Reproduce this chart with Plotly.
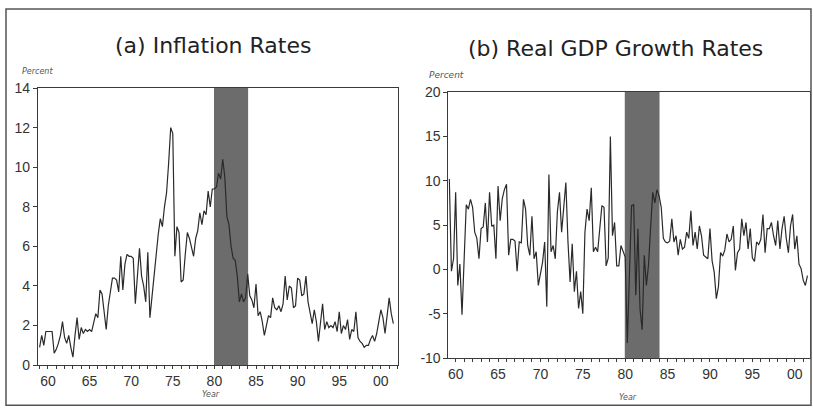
import plotly.graph_objects as go

# ---------------- data (quarterly, annualised %) ----------------
infl_start_year = 1959          # first quarter: 1959Q1
inflation = [
    0.9, 1.5, 1.0, 1.7,   1.7, 1.7, 1.7, 0.6,   0.8, 1.1, 1.5, 2.2,   1.4, 1.1, 1.5, 0.9,
    0.4, 1.5, 2.4, 1.3,   1.9, 1.6, 1.8, 1.7,   1.8, 1.7, 2.2, 2.6,   2.4, 3.8, 3.6, 2.6,
    1.8, 3.0, 3.8, 4.4,   4.4, 4.3, 3.7, 5.5,   3.8, 5.1, 5.6, 5.5,   5.5, 5.4, 3.1, 4.6,
    5.9, 4.5, 4.0, 3.2,   5.7, 2.4, 3.5, 4.6,   5.6, 6.6, 7.4, 7.0,   8.0, 8.7, 10.2, 12.0,
    11.7, 5.5, 7.0, 6.7,  4.2, 4.3, 5.6, 6.7,   6.4, 6.0, 5.5, 6.4,   6.8, 7.7, 7.1, 7.8,
    7.6, 8.8, 8.0, 8.9,   8.9, 9.0, 9.7, 9.4,   10.4, 9.5, 7.5, 7.1,  6.0, 5.4, 5.3, 4.5,
    3.2, 3.6, 3.2, 3.4,   4.6, 3.5, 3.3, 2.9,   4.1, 2.5, 2.7, 2.2,   1.5, 2.0, 2.5, 2.4,
    3.4, 2.9, 2.8, 3.0,   2.7, 3.1, 4.5, 3.3,   4.0, 3.9, 2.9, 3.0,   4.4, 4.3, 3.5, 3.6,
    4.5, 3.2, 2.7, 2.1,   2.8, 2.2, 1.2, 2.3,   3.1, 1.8, 2.2, 1.9,   2.0, 1.9, 2.2, 1.7,
    2.7, 1.6, 2.0, 1.8,   2.3, 1.3, 1.8, 1.7,   2.7, 1.4, 1.2, 1.1,   0.9, 1.0, 1.0, 1.3,
    1.5, 1.2, 1.6, 2.2,   2.8, 2.4, 1.6, 2.5,   3.4, 2.6, 2.1,
]

gdp_start_year = 1959.25        # first quarter: 1959Q2
gdp_growth = [
    10.2, -0.2, 1.2,
    8.7, -1.8, 0.6, -5.1,   0.5, 7.3, 6.8, 7.9,   7.0, 4.2, 3.5, 1.2,   4.6, 4.8, 7.5, 3.1,
    8.7, 4.9, 5.0, 1.2,     9.4, 5.5, 8.0, 9.0,   9.6, 1.6, 3.4, 3.4,   3.2, -0.2, 3.1, 3.0,
    7.9, 6.8, 2.7, 1.6,     6.0, 1.2, 2.0, -1.8,  -0.5, 0.8, 3.1, -4.2, 10.7, 2.0, 2.7, 1.2,
    6.5, 8.7, 4.2, 7.5,     9.8, 3.1, -1.4, 2.9,  -2.5, -0.2, -4.4, -2.5, -5.0, 4.2, 6.8, 5.5,
    9.2, 2.0, 2.5, 2.0,     4.6, 7.2, 7.0, 0.4,   1.3, 15.0, 3.8, 5.3,  0.4, 0.4, 2.7, 2.0,
    1.4, -8.3, -0.5, 7.2,   7.3, -2.9, 4.6, -4.5, -6.8, 1.6, -1.8, 0.5, 4.8, 8.7, 7.5, 9.0,
    8.3, 7.0, 3.5, 3.1,     3.0, 3.2, 5.7, 3.1,   3.8, 1.6, 3.4, 2.3,   2.5, 4.2, 3.5, 6.6,
    2.7, 4.2, 2.3, 4.9,     3.8, 1.6, 1.4, 1.2,   4.6, 1.0, -0.3, -3.3, -1.9, 1.9, 1.5, 2.2,
    4.0, 3.1, 3.4, 4.9,     -0.1, 1.9, 2.3, 5.7,  3.8, 5.3, 2.3, 4.6,   1.3, 0.9, 3.1, 2.8,
    3.4, 6.2, 1.9, 4.6,     4.6, 5.3, 3.8, 2.7,   5.5, 2.3, 4.6, 6.0,   3.5, 1.9, 4.9, 6.2,
    2.3, 3.8, 0.6, 0.1,     -1.2, -1.8, -0.7,
]

shade_years = [1979.95, 1984.05]
x_tick_years = [1960, 1965, 1970, 1975, 1980, 1985, 1990, 1995, 2000]
x_tick_labels = ["60", "65", "70", "75", "80", "85", "90", "95", "00"]
y1_ticks = [0, 2, 4, 6, 8, 10, 12, 14]
y2_ticks = [-10, -5, 0, 5, 10, 15, 20]
y2_tick_labels = ["-10", "-5", "0", "5", "10", "15", "20"]
titles = ["(a) Inflation Rates", "(b) Real GDP Growth Rates"]

infl_x = [infl_start_year + i / 4 for i in range(len(inflation))]
gdp_x = [gdp_start_year + i / 4 for i in range(len(gdp_growth))]

W, H = 813, 415
# screen-position helpers (vertical calibration of the capture: 8px top inset, 0.961 scale)
def px(x): return x / W
def py(y): return 1 - ((y - 8) / 0.961) / H

all_years = list(range(1959, 2003))
all_year_text = [x_tick_labels[x_tick_years.index(y)] if y in x_tick_years else "" for y in all_years]

LINE = "#2a2a2a"
AX = "#3a3a3a"
TICKFONT = dict(family="Liberation Sans, Arial, sans-serif", size=14, color="#333333")

fig = go.Figure()
fig.add_trace(go.Scatter(x=infl_x, y=inflation, mode="lines",
                         line=dict(color=LINE, width=1.2), xaxis="x", yaxis="y",
                         showlegend=False, hoverinfo="skip"))
fig.add_trace(go.Scatter(x=gdp_x, y=gdp_growth, mode="lines",
                         line=dict(color=LINE, width=1.2), xaxis="x2", yaxis="y2",
                         showlegend=False, hoverinfo="skip"))

xcommon = dict(showgrid=False, zeroline=False, showline=True, linecolor=AX, linewidth=1,
               mirror=True, ticks="outside", ticklen=3, tickcolor=AX, tickwidth=1,
               tickmode="array", tickvals=all_years, ticktext=all_year_text,
               tickfont=TICKFONT)
ycommon = dict(showgrid=False, zeroline=False, showline=True, linecolor=AX, linewidth=1,
               mirror=True, ticks="outside", ticklen=4, tickcolor=AX, tickwidth=1,
               tickmode="array", tickfont=TICKFONT)

fig.update_layout(
    width=W, height=H, autosize=False,
    margin=dict(l=0, r=0, t=0, b=0),
    paper_bgcolor="white", plot_bgcolor="white",
    xaxis=dict(domain=[px(37), px(397)], range=[1958.8, 2002.0], anchor="y", **xcommon),
    yaxis=dict(domain=[py(365), py(88)], range=[0, 14], anchor="x",
               tickvals=y1_ticks, ticktext=[str(v) for v in y1_ticks], **ycommon),
    xaxis2=dict(domain=[px(448), px(810)], range=[1959.15, 2001.8], anchor="y2", **xcommon),
    yaxis2=dict(domain=[py(358), py(92)], range=[-10, 20], anchor="x2",
                tickvals=y2_ticks, ticktext=y2_tick_labels, **ycommon),
)

# recession-style shaded band
for xr, yr in (("x", "y domain"), ("x2", "y2 domain")):
    fig.add_shape(type="rect", xref=xr, yref=yr, x0=shade_years[0], x1=shade_years[1],
                  y0=0, y1=1, fillcolor="rgb(108,108,108)", line=dict(width=0), layer="below")

# outer frame
fig.add_shape(type="rect", xref="paper", yref="paper", x0=px(5), x1=px(811), y0=py(405), y1=py(9),
              line=dict(color="#555555", width=1.5), fillcolor="rgba(0,0,0,0)")

TITLEFONT = dict(family="DejaVu Sans, sans-serif", size=22, color="#222222")
fig.add_annotation(text=titles[0], x=px(212), y=py(45), xref="paper", yref="paper",
                   showarrow=False, font=TITLEFONT, xanchor="center", yanchor="middle")
fig.add_annotation(text=titles[1], x=px(615), y=py(48), xref="paper", yref="paper",
                   showarrow=False, font=TITLEFONT, xanchor="center", yanchor="middle")

SMALL = dict(family="DejaVu Sans, sans-serif", size=8, color="#555555")
fig.add_annotation(text="<i>Percent</i>", x=px(19), y=py(71), xref="paper", yref="paper",
                   showarrow=False, font=SMALL, xanchor="left", yanchor="middle")
fig.add_annotation(text="<i>Percent</i>", x=px(427), y=py(75), xref="paper", yref="paper",
                   showarrow=False, font=dict(SMALL, size=9), xanchor="left", yanchor="middle")
fig.add_annotation(text="<i>Year</i>", x=px(210), y=py(394), xref="paper", yref="paper",
                   showarrow=False, font=SMALL, xanchor="center", yanchor="middle")
fig.add_annotation(text="<i>Year</i>", x=px(628), y=py(397), xref="paper", yref="paper",
                   showarrow=False, font=SMALL, xanchor="center", yanchor="middle")

fig.write_html(
    "out.html",
    config={"displayModeBar": False, "responsive": False},
    post_script="document.body.style.margin='0';document.body.style.padding='0';"
                "document.body.style.overflow='hidden';"
                "document.documentElement.style.overflow='hidden';",
)
